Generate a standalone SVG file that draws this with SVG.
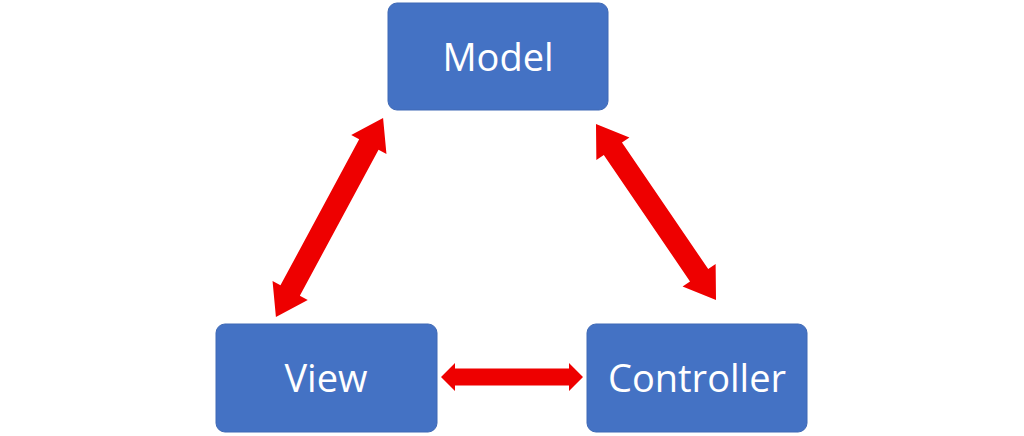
<svg xmlns="http://www.w3.org/2000/svg" width="1024" height="436" viewBox="0 0 1024 436">
<style>
.box{fill:#4472C4;stroke:#3F69B5;stroke-width:1}
.lbl{font-family:"Open Sans","Liberation Sans",sans-serif;font-size:38px;fill:#fff;text-anchor:middle;dominant-baseline:central}
.arr{fill:#EE0000}
</style>
<rect width="1024" height="436" fill="#fff"/>
<g id="connectors">
<polygon class="arr" transform="translate(329.5,217.5) rotate(118.3)" points="-113,0 -83,-20 -83,-11 83,-11 83,-20 113,0 83,20 83,11 -83,11 -83,20"/>
<polygon class="arr" transform="translate(656,212) rotate(55.7)" points="-106.5,0 -76.5,-20 -76.5,-11 76.5,-11 76.5,-20 106.5,0 76.5,20 76.5,11 -76.5,11 -76.5,20"/>
<polygon class="arr" points="441,377 455,363 455,368.5 569,368.5 569,363 583,377 569,391 569,385.5 455,385.5 455,391"/>
</g>
<g id="model"><rect class="box" x="388" y="3" width="220" height="107" rx="9"/><text class="lbl" x="498" y="56">Model</text></g>
<g id="view"><rect class="box" x="216" y="324" width="221" height="108" rx="9"/><text class="lbl" x="326" y="377">View</text></g>
<g id="controller"><rect class="box" x="587" y="324" width="220" height="108" rx="9"/><text class="lbl" x="697" y="377">Controller</text></g>
</svg>
